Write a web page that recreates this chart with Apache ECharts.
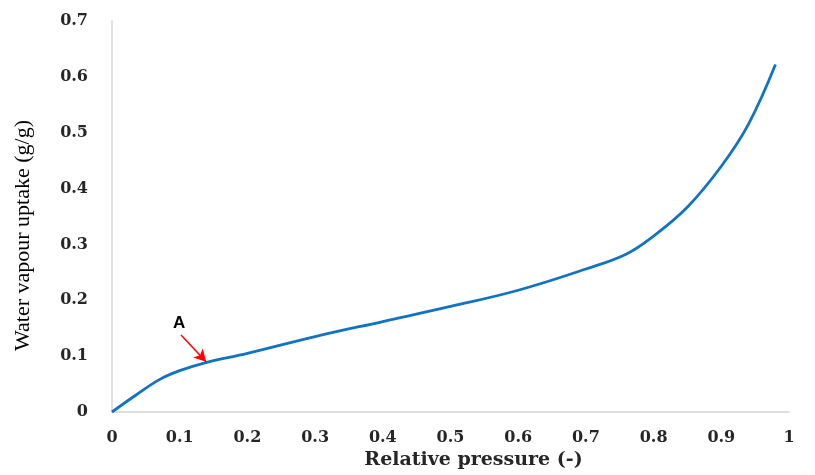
<!DOCTYPE html>
<html>
<head>
<meta charset="utf-8">
<script src="https://cdn.jsdelivr.net/npm/echarts@6/dist/echarts.min.js"></script>
<style>html,body{margin:0;padding:0;background:#fff}#c{width:815px;height:475px}</style>
</head>
<body>
<div id="c"></div>
<script>
// Data
const relativePressure = [0, 0.035, 0.07, 0.1, 0.14, 0.2, 0.3, 0.4, 0.5, 0.6, 0.7, 0.76, 0.8, 0.85, 0.9, 0.94, 0.98];
const vapourUptake     = [0, 0.030, 0.058, 0.074, 0.089, 0.105, 0.135, 0.162, 0.189, 0.218, 0.256, 0.283, 0.315, 0.367, 0.440, 0.515, 0.622];
const xTicks = [0, 0.1, 0.2, 0.3, 0.4, 0.5, 0.6, 0.7, 0.8, 0.9, 1];
const yTicks = [0, 0.1, 0.2, 0.3, 0.4, 0.5, 0.6, 0.7];
const arrowStart = [0.102, 0.138];
const arrowEnd   = [0.139, 0.090];
const labelA     = [0.099, 0.158];
const labelAText = 'A';

const chart = echarts.init(document.getElementById('c'));
const tickFont = {fontFamily: 'DejaVu Serif', fontWeight: 'bold', fontSize: 16, color: '#262626'};
chart.setOption({
  animation: false,
  grid: {left: 112, right: 26, top: 21, bottom: 59},
  xAxis: {
    type: 'value', min: xTicks[0], max: xTicks[xTicks.length - 1], interval: 0.1,
    name: 'Relative pressure (-)', nameLocation: 'middle', nameGap: 39,
    nameTextStyle: {fontFamily: 'DejaVu Serif', fontWeight: 'bold', fontSize: 19, color: '#262626', padding: [0, 0, 0, 46]},
    axisLine: {show: true, lineStyle: {color: '#d4d4d4', width: 1.5}},
    axisTick: {show: false}, splitLine: {show: false},
    axisLabel: Object.assign({margin: 18, formatter: v => String(+v.toFixed(1))}, tickFont)
  },
  yAxis: {
    type: 'value', min: yTicks[0], max: yTicks[yTicks.length - 1], interval: 0.1,
    name: 'Water vapour uptake (g/g)', nameLocation: 'middle', nameGap: 78, nameRotate: 90,
    nameTextStyle: {fontFamily: 'Liberation Serif', fontSize: 22, color: '#000', padding: [0, 38, 0, 0]},
    axisLine: {show: true, lineStyle: {color: '#d4d4d4', width: 1.5}},
    axisTick: {show: false}, splitLine: {show: false},
    axisLabel: Object.assign({margin: 24, formatter: v => String(+v.toFixed(1))}, tickFont)
  },
  series: [{
    type: 'line', smooth: 0.4, showSymbol: false, symbol: 'none',
    data: relativePressure.map((x, i) => [x, vapourUptake[i]]),
    lineStyle: {color: '#1273c4', width: 2.8},
    markLine: {
      silent: true, symbol: ['none', 'arrow'], symbolSize: [10, 12],
      lineStyle: {color: '#ff0000', width: 1.5, type: 'solid'},
      label: {show: false},
      data: [[{coord: arrowStart}, {coord: arrowEnd}]]
    },
    markPoint: {
      silent: true, symbol: 'circle', symbolSize: 0,
      label: {show: true, position: 'inside', formatter: labelAText, fontFamily: 'Liberation Sans', fontWeight: 'bold', fontSize: 17, color: '#000'},
      data: [{coord: labelA}]
    }
  }]
});
</script>
</body>
</html>
